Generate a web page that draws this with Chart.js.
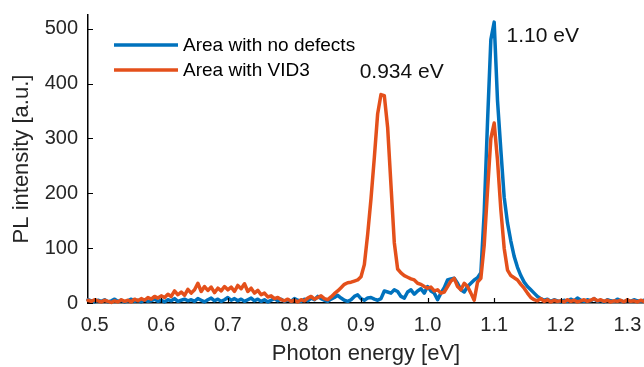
<!DOCTYPE html>
<html>
<head>
<meta charset="utf-8">
<script src="https://cdn.jsdelivr.net/npm/chart.js@4.4.1/dist/chart.umd.min.js"></script>
<style>
  html, body { margin: 0; padding: 0; background: #fff; }
</style>
</head>
<body>
<canvas id="pl-chart" width="644" height="367"></canvas>
<script>
// photon energy (eV)
const energies = [
  0.490, 0.495, 0.500, 0.505, 0.510, 0.515, 0.520, 0.525, 0.530, 0.535,
  0.540, 0.545, 0.550, 0.555, 0.560, 0.565, 0.570, 0.575, 0.580, 0.585,
  0.590, 0.595, 0.600, 0.605, 0.610, 0.615, 0.620, 0.625, 0.630, 0.635,
  0.640, 0.645, 0.650, 0.655, 0.660, 0.665, 0.670, 0.675, 0.680, 0.685,
  0.690, 0.695, 0.700, 0.705, 0.710, 0.715, 0.720, 0.725, 0.730, 0.735,
  0.740, 0.745, 0.750, 0.755, 0.760, 0.765, 0.770, 0.775, 0.780, 0.785,
  0.790, 0.795, 0.800, 0.805, 0.810, 0.815, 0.820, 0.825, 0.830, 0.835,
  0.840, 0.845, 0.850, 0.855, 0.860, 0.865, 0.870, 0.875, 0.880, 0.885,
  0.890, 0.895, 0.900, 0.905, 0.910, 0.915, 0.920, 0.925, 0.930, 0.935,
  0.940, 0.945, 0.950, 0.955, 0.960, 0.965, 0.970, 0.975, 0.980, 0.985,
  0.990, 0.995, 1.000, 1.005, 1.010, 1.015, 1.020, 1.025, 1.030, 1.035,
  1.040, 1.045, 1.050, 1.055, 1.060, 1.065, 1.070, 1.075, 1.080, 1.085,
  1.090, 1.095, 1.100, 1.105, 1.110, 1.115, 1.120, 1.125, 1.130, 1.135,
  1.140, 1.145, 1.150, 1.155, 1.160, 1.165, 1.170, 1.175, 1.180, 1.185,
  1.190, 1.195, 1.200, 1.205, 1.210, 1.215, 1.220, 1.225, 1.230, 1.235,
  1.240, 1.245, 1.250, 1.255, 1.260, 1.265, 1.270, 1.275, 1.280, 1.285,
  1.290, 1.295, 1.300, 1.305, 1.310, 1.315, 1.320, 1.325, 1.330
];

// PL intensity, area with no defects
const noDefects = [
  6, 4, 2, 5, 3, 6, 2, 4, 7, 3,
  5, 2, 4, 7, 3, 5, 2, 6, 3, 4,
  7, 3, 5, 2, 6, 4, 8, 3, 5, 7,
  4, 6, 3, 8, 5, 2, 6, 9, 4, 7,
  3, 6, 10, 5, 8, 4, 7, 3, 6, 9,
  4, 7, 3, 6, 2, 5, 8, 4, 7, 3,
  6, 3, 8, 5, 3, 7, 4, 9, 6, 12,
  8, 5, 3, 7, 10, 14, 9, 5, 3, 6,
  12, 15, 8, 5, 9, 10, 7, 5, 8, 22,
  20, 18, 24, 21, 12, 9, 20, 24, 16, 22,
  26, 18, 30, 22, 18, 6, 18, 28, 42, 44,
  45, 36, 24, 20, 30, 36, 42, 46, 55, 165,
  330, 480, 512, 369, 279, 193, 146, 113, 85, 65,
  50, 38, 30, 24, 18, 12, 8, 5, 7, 3,
  6, 4, 2, 5, 3, 7, 4, 9, 5, 3,
  6, 4, 8, 3, 5, 2, 6, 4, 3, 7,
  4, 2, 5, 3, 6, 4, 3, 5, 2
];

// PL intensity, area with VID3
const vid3 = [
  5, 3, 6, 4, 2, 5, 3, 1, 4, 2,
  6, 3, 5, 2, 7, 4, 8, 5, 10, 7,
  12, 9, 13, 10, 16, 12, 22, 15, 20, 14,
  25, 18, 24, 36, 21, 30, 23, 29, 19, 27,
  22, 30, 24, 29, 21, 32, 26, 35, 21, 27,
  18, 23, 15, 18, 11, 13, 8, 10, 6, 4,
  7, 3, 5, 2, 6, 4, 9, 12, 7, 10,
  13, 8, 6, 11, 17, 22, 28, 34, 37, 38,
  40, 42, 48, 70, 125, 190, 265, 345, 380, 378,
  320, 215, 110, 62, 55, 50, 47, 44, 42, 36,
  34, 30, 27, 29, 22, 24, 18, 20, 30, 40,
  45, 30, 24, 36, 30, 18, 5, 38, 45, 105,
  205, 300, 328, 260, 170, 100, 60, 50, 46, 42,
  34, 27, 18, 10, 6, 4, 8, 3, 6, 2,
  5, 3, 4, 2, 6, 3, 5, 2, 4, 6,
  3, 5, 8, 4, 6, 3, 5, 2, 4, 3,
  5, 2, 6, 3, 4, 2, 5, 3, 4
];

const xTickValues = [0.5, 0.6, 0.7, 0.8, 0.9, 1.0, 1.1, 1.2, 1.3];
const yTickValues = [0, 100, 200, 300, 400, 500];
const peakNames = ['0.934 eV', '1.10 eV'];

const FONT = "'Liberation Sans', Arial, Helvetica, sans-serif";

function toPoints(values){
    return energies.map((e, i) => ({x: e, y: values[i]}));
}

// matlab style ticks pointing inside the axes
const inwardTicks = {
    id: 'inwardTicks',
    afterDatasetsDraw(chart){
        const {ctx, chartArea, scales} = chart;
        ctx.save();
        ctx.strokeStyle = '#000';
        ctx.lineWidth = 1.2;
        ctx.beginPath();
        scales.x.ticks.forEach(t => {
            const px = Math.round(scales.x.getPixelForValue(t.value)) + 0.5;
            ctx.moveTo(px, chartArea.bottom);
            ctx.lineTo(px, chartArea.bottom - 5);
        });
        scales.y.ticks.forEach(t => {
            const py = Math.round(scales.y.getPixelForValue(t.value)) + 0.5;
            ctx.moveTo(chartArea.left, py);
            ctx.lineTo(chartArea.left + 5, py);
        });
        ctx.stroke();
        ctx.restore();
    }
};

// legend without box, top left inside the axes
const insideLegend = {
    id: 'insideLegend',
    afterDraw(chart){
        const ctx = chart.ctx;
        const area = chart.chartArea;
        ctx.save();
        ctx.font = '19px ' + FONT;
        ctx.textBaseline = 'middle';
        ctx.fillStyle = '#000';
        chart.data.datasets.forEach((ds, i) => {
            const yy = area.top + 30 + i * 25;
            ctx.strokeStyle = ds.borderColor;
            ctx.lineWidth = 3.5;
            ctx.beginPath();
            ctx.moveTo(area.left + 26, yy);
            ctx.lineTo(area.left + 90, yy);
            ctx.stroke();
            ctx.fillText(ds.label, area.left + 95, yy + 1);
        });
        ctx.restore();
    }
};

// peak labels
const peakText = {
    id: 'peakText',
    afterDraw(chart){
        const {ctx, scales: {x, y}} = chart;
        ctx.save();
        ctx.font = '21px ' + FONT;
        ctx.textBaseline = 'middle';
        ctx.fillStyle = '#111';
        ctx.fillText(peakNames[0], x.getPixelForValue(0.898), y.getPixelForValue(420));
        ctx.fillText(peakNames[1], x.getPixelForValue(1.1185), y.getPixelForValue(487));
        ctx.restore();
    }
};

new Chart(document.getElementById('pl-chart'), {
    type: 'line',
    data: {
        datasets: [
            {
                label: 'Area with no defects',
                data: toPoints(noDefects),
                borderColor: '#0072BD',
                borderWidth: 3.5,
                pointRadius: 0,
                tension: 0,
                borderJoinStyle: 'round',
                borderCapStyle: 'round',
                clip: false,
                order: 1
            },
            {
                label: 'Area with VID3',
                data: toPoints(vid3),
                borderColor: '#E4501B',
                borderWidth: 3.5,
                pointRadius: 0,
                tension: 0,
                borderJoinStyle: 'round',
                borderCapStyle: 'round',
                clip: false,
                order: 0
            }
        ]
    },
    options: {
        responsive: false,
        animation: false,
        layout: {padding: {top: 15, right: 0, bottom: 0, left: 0}},
        plugins: {
            legend: {display: false},
            tooltip: {enabled: false}
        },
        scales: {
            x: {
                type: 'linear',
                min: 0.49,
                max: 1.325,
                grid: {display: false, drawTicks: false},
                border: {display: true, color: '#000', width: 1.5},
                afterBuildTicks: s => { s.ticks = xTickValues.map(v => ({value: v})); },
                afterFit: s => { s.height = 64; s.paddingLeft = 0; s.paddingRight = 0; },
                ticks: {
                    padding: 10,
                    color: '#262626',
                    autoSkip: false,
                    maxRotation: 0,
                    font: {family: FONT, size: 20},
                    callback: v => v.toFixed(1)
                },
                title: {
                    display: true,
                    text: 'Photon energy [eV]',
                    color: '#262626',
                    padding: {top: 0, bottom: 0},
                    font: {family: FONT, size: 22}
                }
            },
            y: {
                min: 0,
                max: 525,
                grid: {display: false, drawTicks: false},
                border: {display: true, color: '#000', width: 1.5},
                afterBuildTicks: s => { s.ticks = yTickValues.map(v => ({value: v})); },
                afterFit: s => { s.width = 88; s.paddingTop = 0; s.paddingBottom = 0; },
                ticks: {
                    padding: 10,
                    color: '#262626',
                    font: {family: FONT, size: 20}
                },
                title: {
                    display: true,
                    text: 'PL intensity [a.u.]',
                    color: '#262626',
                    padding: {top: 9, bottom: 0},
                    font: {family: FONT, size: 22}
                }
            }
        }
    },
    plugins: [inwardTicks, insideLegend, peakText]
});
</script>
</body>
</html>
